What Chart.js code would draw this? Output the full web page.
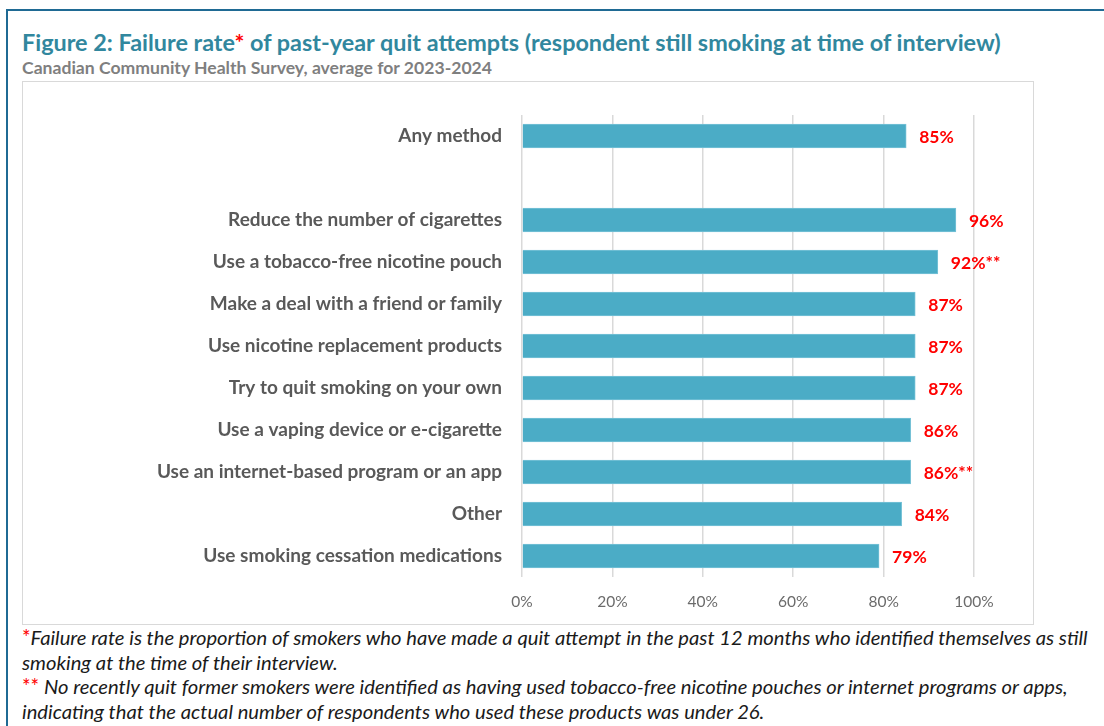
<!DOCTYPE html>
<html>
<head>
<meta charset="utf-8">
<script src="https://cdn.jsdelivr.net/npm/chart.js@4"></script>
<style>
    body { margin: 0; width: 1104px; height: 726px; overflow: hidden; background: #fff; font-family: Lato, "Open Sans", sans-serif; }
    #frame { position: absolute; left: 6px; top: 9px; width: 1200px; height: 800px; border-top: 2px solid #1F6A94; border-left: 2px solid #1F6A94; }
    #title { position: absolute; left: 22px; top: 28px; line-height: 28px; font-size: 23.4px; font-weight: bold; color: #31879E; white-space: nowrap; }
    #subtitle { position: absolute; left: 22px; top: 58px; line-height: 20px; font-size: 17.6px; font-weight: bold; color: #7F7F7F; white-space: nowrap; }
    #box { position: absolute; left: 22px; top: 81px; width: 1010px; height: 542px; border: 1px solid #D9D9D9; }
    #notes { position: absolute; left: 22px; top: 625px; font-size: 20.2px; font-style: italic; color: #1a1a1a; line-height: 24.6px; white-space: nowrap; }
    .red { color: #FF0000; font-style: normal; }
</style>
</head>
<body>
<div id="frame"></div>
<div id="title">Figure 2: Failure rate<span class="red">*</span> of past-year quit attempts (respondent still smoking at time of interview)</div>
<div id="subtitle">Canadian Community Health Survey, average for 2023-2024</div>
<div id="box"><canvas id="myChart"></canvas></div>
<div id="notes">
    <span class="red">*</span>Failure rate is the proportion of smokers who have made a quit attempt in the past 12 months who identified themselves as still<br>
    smoking at the time of their interview.<br>
    <span class="red">**</span> No recently quit former smokers were identified as having used tobacco-free nicotine pouches or internet programs or apps,<br>
    indicating that the actual number of respondents who used these products was under 26.
</div>
<script>
const methods = [
    'Any method',
    '',
    'Reduce the number of cigarettes',
    'Use a tobacco-free nicotine pouch',
    'Make a deal with a friend or family',
    'Use nicotine replacement products',
    'Try to quit smoking on your own',
    'Use a vaping device or e-cigarette',
    'Use an internet-based program or an app',
    'Other',
    'Use smoking cessation medications'
]
const failureRate = [85, null, 96, 92, 87, 87, 87, 86, 86, 84, 79]
const flags = ['', '', '', '**', '', '', '', '', '**', '', '']
const xTicks = [0, 20, 40, 60, 80, 100]

// etiquetas vermelhas no fim das barras
const barLabels = {
    id: 'barLabels',
    afterDatasetsDraw(chart) {
        const ctx = chart.ctx
        const meta = chart.getDatasetMeta(0)
        ctx.save()
        ctx.fillStyle = '#FF0000'
        ctx.font = 'bold 17.5px Lato'
        ctx.textBaseline = 'middle'
        ctx.textAlign = 'left'
        meta.data.forEach((bar, i) => {
            if (failureRate[i] == null) return
            ctx.fillText(failureRate[i] + '%' + flags[i], bar.x + 13, bar.y + 1)
        })
        ctx.restore()
    }
}

const cfg = {
    type: 'bar',
    data: {
        labels: methods,
        datasets: [{
            data: failureRate,
            backgroundColor: '#4BACC6',
            borderColor: '#79C3D7',
            borderWidth: 1,
            barThickness: 24
        }]
    },
    options: {
        indexAxis: 'y',
        responsive: true,
        maintainAspectRatio: false,
        animation: false,
        layout: {
            padding: { top: 33, right: 59, left: 0, bottom: 0 }
        },
        scales: {
            x: {
                min: 0,
                max: 100,
                afterFit: (scale) => { scale.height = 47 },
                afterBuildTicks: (scale) => { scale.ticks = xTicks.map(v => ({ value: v })) },
                ticks: {
                    color: '#6B6B6B',
                    font: { family: 'Lato', size: 15.5 },
                    padding: 16,
                    callback: (v) => v + '%'
                },
                grid: {
                    color: '#D9D9D9',
                    lineWidth: 1.5,
                    drawTicks: false
                },
                border: { display: false }
            },
            y: {
                afterFit: (scale) => { scale.width = 499 },
                ticks: {
                    color: '#595959',
                    font: { family: 'Lato', size: 19, weight: 'bold' },
                    padding: 12
                },
                grid: { display: false },
                border: { display: false }
            }
        },
        plugins: {
            legend: { display: false },
            tooltip: { enabled: false }
        }
    },
    plugins: [barLabels]
}

const ctx = document.getElementById('myChart').getContext('2d')
// eslint-disable-next-line no-undef
const myChart = new Chart(ctx, cfg)
</script>
</body>
</html>
